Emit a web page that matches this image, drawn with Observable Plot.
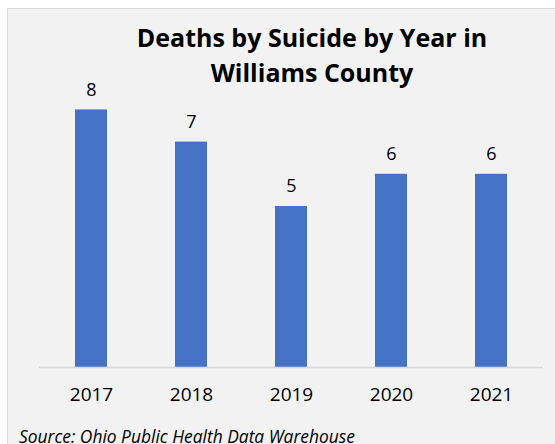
<!DOCTYPE html>
<html>
<head>
<meta charset="utf-8">
<script src="https://cdn.jsdelivr.net/npm/d3@7"></script>
<script src="https://cdn.jsdelivr.net/npm/@observablehq/plot@0.6"></script>
<style>
  html, body { margin: 0; padding: 0; background: #ffffff; width: 555px; height: 444px; overflow: hidden; }
  #box { position: absolute; left: 7px; top: 8px; width: 560px; height: 450px; background: #f2f2f2; border: 1px solid #d9d9d9; box-sizing: border-box; }
  #chart { position: absolute; left: 0px; top: 0px; width: 547px; }
  #title { position: absolute; left: 104px; top: 10.5px; width: 400px; text-align: center; font-family: "Open Sans", sans-serif; font-weight: bold; font-size: 25px; line-height: 35px; color: #000; }
  #source { position: absolute; left: 11px; top: 417px; font-family: "Open Sans", sans-serif; font-style: italic; font-size: 17.4px; line-height: 20px; color: #000; white-space: nowrap; }
</style>
</head>
<body>
<div id="box">
  <div id="chart"></div>
  <div id="title">Deaths by Suicide by Year in<br>Williams County</div>
  <div id="source">Source: Ohio Public Health Data Warehouse</div>
</div>
<script>
const years = ["2017", "2018", "2019", "2020", "2021"];
const deaths = [8, 7, 5, 6, 6];

const data = years.map((y, i) => ({year: y, deaths: deaths[i]}));

const chart = Plot.plot({
  width: 547,
  height: 400,
  marginLeft: 31,
  marginRight: 12,
  marginTop: 36,
  marginBottom: 42,
  style: { background: "transparent", fontFamily: "Open Sans, sans-serif", fontSize: "19px", color: "#000" },
  x: { domain: years, paddingInner: 0.68, paddingOuter: 0.34, label: null, tickSize: 0, tickPadding: 20 },
  y: { domain: [0, 10], axis: null },
  marks: [
    Plot.barY(data, { x: "year", y: "deaths", fill: "#4472c4" }),
    Plot.ruleY([0], { stroke: "#d9d9d9", strokeWidth: 1.5 }),
    Plot.text(data, { x: "year", y: "deaths", text: d => String(d.deaths), dy: -20, fontSize: 18, fill: "#000" })
  ]
});
document.getElementById("chart").appendChild(chart);
</script>
</body>
</html>
